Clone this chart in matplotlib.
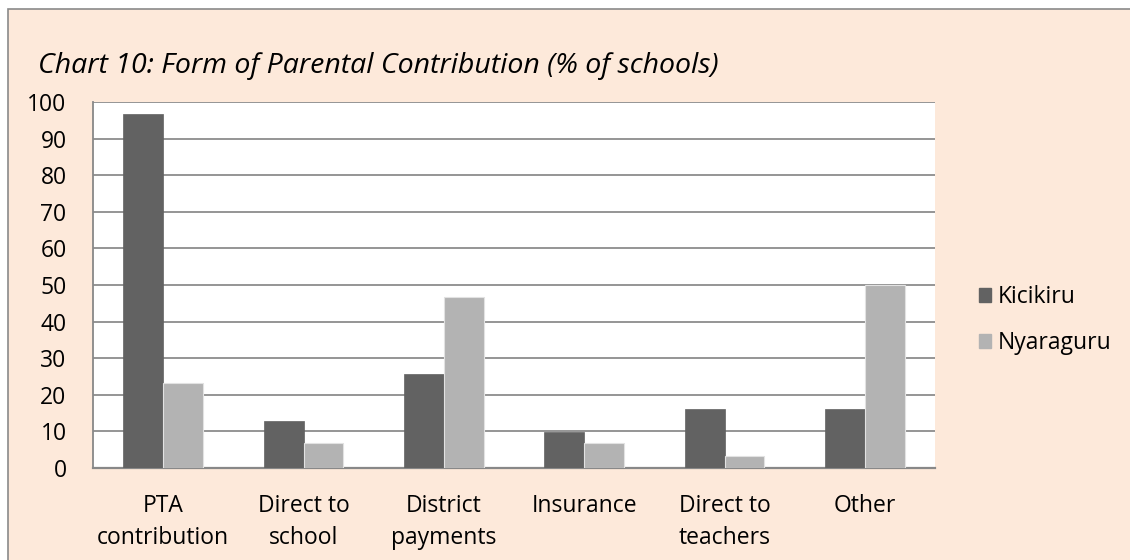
import numpy as np
import matplotlib.pyplot as plt
from matplotlib.patches import Rectangle, Patch

# data
categories = ["PTA\ncontribution", "Direct to\nschool", "District\npayments",
              "Insurance", "Direct to\nteachers", "Other"]
kicikiru = [96.8, 12.9, 25.8, 9.7, 16.1, 16.1]
nyaraguru = [23.3, 6.7, 46.7, 6.7, 3.3, 50.0]

DARK = "#626262"
LIGHT = "#b3b3b3"
BG = "#fde9da"
GRID = "#8c8c8c"

plt.rcParams["font.family"] = ["Open Sans", "DejaVu Sans"]

fig = plt.figure(figsize=(11.3, 5.6), dpi=100)
fig.patch.set_facecolor("white")
fig.patches.append(Rectangle((8 / 1130, -0.1), 1.2, 1.1 - 9 / 560,
                             transform=fig.transFigure, facecolor=BG,
                             edgecolor="#8a8a8a", lw=1.2, zorder=-10))

ax = fig.add_axes([93 / 1130, 92 / 560, 842 / 1130, 366 / 560])
ax.set_facecolor("white")

x = np.arange(len(categories))
w = 0.285
ax.bar(x - w / 2, kicikiru, w, color=DARK, edgecolor=DARK, lw=0.5, zorder=3)
ax.bar(x + w / 2, nyaraguru, w, color=LIGHT, edgecolor="#e2e2e2", lw=0.8, zorder=3)

ax.set_xlim(-0.5, len(categories) - 0.5)
ax.set_ylim(0, 100)
ax.set_yticks(np.arange(0, 101, 10))
ax.set_xticks(x)
ax.set_xticklabels(categories, fontsize=16.5, linespacing=1.45)
ax.tick_params(axis="y", length=0, pad=19, labelsize=16.5)
ax.tick_params(axis="x", length=0, pad=19)
ax.yaxis.grid(True, color=GRID, lw=1.3, zorder=0)
ax.set_axisbelow(True)
for s in ["top", "right"]:
    ax.spines[s].set_visible(False)
ax.spines["left"].set_color("#888888")
ax.spines["left"].set_linewidth(1.3)
ax.spines["bottom"].set_color("#888888")
ax.spines["bottom"].set_linewidth(1.6)

fig.text(38 / 1130, 1 - 73 / 560, "Chart 10: Form of Parental Contribution (% of schools)",
         fontsize=20.5, style="italic", va="baseline", ha="left")

handles = [Patch(facecolor=DARK, edgecolor=DARK), Patch(facecolor=LIGHT, edgecolor=LIGHT)]
fig.legend(handles, ["Kicikiru", "Nyaraguru"], loc="center left",
           bbox_to_anchor=(958 / 1130, 1 - 320 / 560), frameon=False,
           fontsize=16.5, handlelength=0.55, handleheight=0.55, handletextpad=0.3,
           labelspacing=0.95)

fig.savefig("out.png", dpi=100, facecolor=fig.get_facecolor())
